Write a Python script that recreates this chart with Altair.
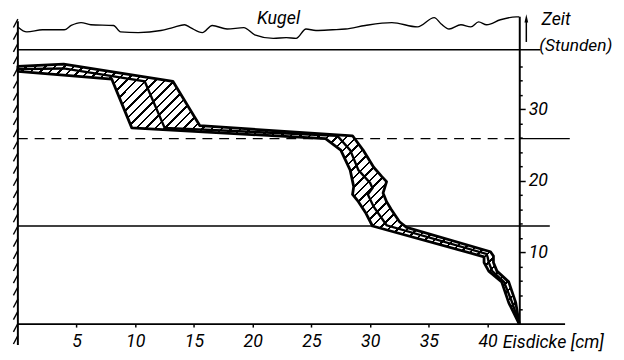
import altair as alt
import pandas as pd
import numpy as np

# --- values: (Eisdicke in cm, Zeit in Stunden) ---
left_x = [42.7, 41.8, 41.2, 40.1, 39.7, 39.7, 30.2, 29.6, 29.0, 28.5, 28.6, 28.3, 27.5, 26.2, 9.7, 8.0, 0.0]
left_t = [0, 3.0, 5.9, 7.4, 8.6, 9.4, 13.7, 15.6, 17.1, 18.1, 19.2, 21.5, 24.3, 25.9, 27.4, 34.2, 35.3]

mid_x = [42.7, 42.1, 41.4, 40.4, 40.1, 40.0, 39.9, 31.4, 30.3, 29.8, 30.2, 30.0, 29.0, 28.3, 27.2, 12.5, 10.8, 3.9, 0.0]
mid_t = [0, 3.0, 5.9, 7.4, 8.6, 9.4, 9.8, 13.8, 16.4, 18.1, 19.0, 19.7, 21.5, 24.3, 26.3, 27.4, 33.9, 35.7, 35.6]

right_x = [42.7, 42.4, 41.8, 40.8, 40.5, 40.5, 40.25, 33.1, 32.5, 31.8, 31.4, 31.1, 31.4, 31.0, 30.3, 29.4, 28.5, 15.5, 13.2, 3.9, 0.0]
right_t = [0, 3.0, 5.9, 7.4, 8.6, 9.5, 10.1, 13.5, 14.3, 16.0, 17.1, 18.3, 19.9, 20.6, 21.9, 24.3, 26.3, 27.7, 33.9, 36.3, 36.0]

kugel_x = [0, 0.76, 2.1, 3.95, 4.54, 5.38, 6.22, 8.15, 8.74, 10.25, 12.18, 13.19, 14.2, 14.7, 15.71, 16.55,
           17.82, 19.24, 20.17, 21.76, 22.86, 23.7, 24.54, 25.38, 26.8, 27.9, 29.58, 31.85, 34.03, 35.46,
           36.05, 36.72, 37.73, 38.57, 39.24, 39.92, 41.09, 42.44, 42.7]
kugel_t = [41.5, 40.8, 41.1, 41.1, 41.7, 42.1, 41.8, 41.7, 40.8, 40.7, 41.0, 41.4, 41.8, 41.4, 40.7, 41.7,
           41.2, 41.4, 40.4, 39.9, 40.0, 39.9, 41.2, 41.0, 41.1, 41.2, 41.7, 42.1, 41.5, 42.8,
           41.9, 41.2, 41.8, 41.5, 42.2, 41.8, 42.5, 42.9, 42.9]

# horizontal reference lines (Zeit) and their right ends (cm)
hline_t = [38.3, 13.7, 25.9]
hline_x2 = [44.5, 45.3, 47.0]
dash_t = [25.9]

x_ticks = [5, 10, 15, 20, 25, 30, 35, 40]
y_ticks = list(range(2, 38, 2))

FONT = "Liberation Sans Narrow, Roboto, sans-serif"
FS = 18

# --- tables ---
poly = pd.DataFrame({
    "x": left_x + right_x[::-1],
    "t": left_t + right_t[::-1],
})
poly["i"] = range(len(poly))
mid = pd.DataFrame({"x": mid_x, "t": mid_t, "i": range(len(mid_x))})
kugel = pd.DataFrame({"x": kugel_x, "t": kugel_t, "i": range(len(kugel_x))})

solid = pd.DataFrame({
    "x": [0.0, 0.0, 42.7],
    "x2": hline_x2,
    "t": hline_t,
})
dashed = pd.DataFrame({"x": [0.0], "x2": [42.7], "t": dash_t})
base = pd.DataFrame({"x": [0.0], "x2": [46.6], "t": [0.0]})
wall = pd.DataFrame({"x": [0.0], "t": [-2.9], "t2": [42.3]})
wall_hatch = pd.DataFrame({"x": 0.0, "t": np.arange(-2.3, 42.0, 1.7)})
arrow = pd.DataFrame({"x": [43.3], "t": [39.4], "t2": [42.3]})
arrow_head = pd.DataFrame({"x": [43.3], "t": [42.7]})

text_center = pd.DataFrame({"x": [22.2], "t": [42.6], "label": ["Kugel"], "fs": [FS]})
text_left = pd.DataFrame({
    "x": [44.6, 44.4, 41.3],
    "t": [42.5, 38.8, -2.6],
    "label": ["Zeit", "(Stunden)", "Eisdicke [cm]"],
    "fs": [FS, 17.5, FS],
})

# --- scales and axes ---
xscale = alt.Scale(domain=[0, 42.7], nice=False, zero=False)
yscale = alt.Scale(domain=[0, 43], nice=False, zero=False)

xaxis = alt.Axis(values=x_ticks, domain=False, tickSize=3, tickColor="black", tickWidth=1.5,
                 labelFont=FONT, labelFontSize=FS, labelFontStyle="italic", labelColor="black",
                 labelPadding=6, grid=False, title=None, labelFlush=False)
yaxis = alt.Axis(orient="right", values=y_ticks,
                 labelExpr="datum.value % 10 == 0 ? datum.label : ''",
                 tickSize={"condition": {"test": "datum.value % 10 === 0", "value": 6}, "value": 3},
                 domainColor="black", domainWidth=2, tickColor="black", tickWidth=1.5,
                 labelFont=FONT, labelFontSize=FS, labelFontStyle="italic", labelColor="black",
                 labelPadding=3, grid=False, title=None, labelFlush=False)

X = lambda f="x": alt.X(f"{f}:Q", scale=xscale, axis=xaxis)
Y = lambda f="t": alt.Y(f"{f}:Q", scale=yscale, axis=yaxis)

# hatching fill as a striped linear gradient
N = 80
stops = []
for k in range(N):
    o0 = k / N
    o1 = (k + 0.26) / N
    o2 = (k + 1) / N
    stops += [alt.GradientStop(color="black", offset=o0),
              alt.GradientStop(color="black", offset=o1),
              alt.GradientStop(color="white", offset=o1),
              alt.GradientStop(color="white", offset=o2)]
hatch = alt.LinearGradient(gradient="linear", stops=stops, x1=0, y1=0, x2=1.2, y2=0.62)

layers = []

layers.append(alt.Chart(wall).mark_rule(color="black", strokeWidth=2).encode(
    x=X(), y=Y(), y2="t2:Q"))
layers.append(alt.Chart(wall_hatch).mark_point(
    shape="M0,-1L-0.9,0.7", filled=False, color="black", size=100, strokeWidth=1.4, opacity=1
).encode(x=X(), y=Y()))

layers.append(alt.Chart(solid).mark_rule(color="black", strokeWidth=1.5).encode(
    x=X(), x2="x2:Q", y=Y()))
layers.append(alt.Chart(dashed).mark_rule(color="black", strokeWidth=1.5, strokeDash=[10, 7]).encode(
    x=X(), x2="x2:Q", y=Y()))
layers.append(alt.Chart(base).mark_rule(color="black", strokeWidth=2).encode(
    x=X(), x2="x2:Q", y=Y()))

layers.append(alt.Chart(kugel).mark_line(color="black", strokeWidth=1.4, interpolate="monotone").encode(
    x=X(), y=Y(), order="i:Q"))

layers.append(alt.Chart(poly).mark_line(fill=hatch, stroke="black", strokeWidth=2.8,
                                        strokeJoin="round").encode(
    x=X(), y=Y(), order="i:Q"))
layers.append(alt.Chart(mid).mark_line(color="black", strokeWidth=2.4).encode(
    x=X(), y=Y(), order="i:Q"))

layers.append(alt.Chart(arrow).mark_rule(color="black", strokeWidth=1.5).encode(
    x=X(), y=Y(), y2="t2:Q"))
layers.append(alt.Chart(arrow_head).mark_point(
    shape="M0,-1L0.45,1L-0.45,1Z", filled=True, color="black", size=70, opacity=1
).encode(x=X(), y=Y()))

layers.append(alt.Chart(text_center).mark_text(font=FONT, fontStyle="italic",
                                               color="black", baseline="middle", align="center").encode(
    x=X(), y=Y(), text="label:N", size=alt.Size("fs:Q", scale=None)))
layers.append(alt.Chart(text_left).mark_text(font=FONT, fontStyle="italic",
                                             color="black", baseline="middle", align="left").encode(
    x=X(), y=Y(), text="label:N", size=alt.Size("fs:Q", scale=None)))

chart = alt.layer(*layers).properties(
    width=508, height=312,
    autosize=alt.AutoSizeParams(type="none"),
    padding={"left": 10, "top": 6, "right": 98, "bottom": 28},
).configure_view(stroke=None)

chart.save("out.html", embed_options={"renderer": "svg", "actions": False})
